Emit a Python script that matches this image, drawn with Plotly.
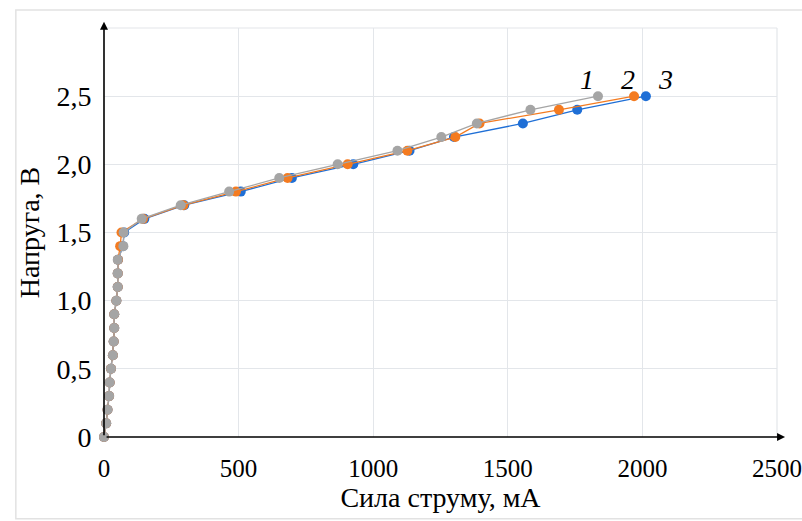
import plotly.graph_objects as go

# Series 1 (gray)
i1 = [0, 8, 13, 19, 21, 26, 33, 36, 38, 38, 46, 51, 51, 51, 72, 73, 140, 285, 465, 651, 868, 1090, 1253, 1385, 1584, 1835]
v1 = [0, 0.1, 0.2, 0.3, 0.4, 0.5, 0.6, 0.7, 0.8, 0.9, 1.0, 1.1, 1.2, 1.3, 1.4, 1.5, 1.6, 1.7, 1.8, 1.9, 2.0, 2.1, 2.2, 2.3, 2.4, 2.5]
# Series 2 (orange)
i2 = [0, 8, 13, 19, 21, 26, 33, 36, 38, 38, 46, 51, 51, 52, 60, 65, 145, 295, 490, 682, 905, 1127, 1305, 1395, 1690, 1969]
v2 = v1
# Series 3 (blue)
i3 = [0, 8, 13, 19, 21, 26, 33, 36, 38, 38, 46, 51, 51, 52, 70, 75, 150, 298, 508, 698, 926, 1135, 1300, 1556, 1758, 2013]
v3 = v1

labels = ["1", "2", "3"]
label_x = [1796, 1947, 2084]
label_y = [2.62, 2.62, 2.62]

x_ticks = [0, 500, 1000, 1500, 2000, 2500]
y_ticks = [0, 0.5, 1.0, 1.5, 2.0, 2.5]
y_tick_text = ["0", "0,5", "1,0", "1,5", "2,0", "2,5"]

BLUE = "#1f6fd6"
ORANGE = "#f47b20"
GRAY = "#a5a5a5"
GRID = "#e3e6ea"
SERIF = "Liberation Serif"

fig = go.Figure()
for xs, ys, c in [(i3, v3, BLUE), (i2, v2, ORANGE), (i1, v1, GRAY)]:
    fig.add_trace(go.Scatter(
        x=xs, y=ys, mode="lines+markers",
        line=dict(color=c, width=1.3),
        marker=dict(color=c, size=10),
        showlegend=False, cliponaxis=False,
    ))

for t, x, y in zip(labels, label_x, label_y):
    fig.add_annotation(x=x, y=y, xref="x", yref="y", text="<i>" + t + "</i>",
                       showarrow=False,
                       font=dict(family=SERIF, size=28, color="black"))

# plot border lines at top (3.0) and right (2500)
fig.add_shape(type="line", xref="paper", yref="paper", x0=0, x1=1, y0=1, y1=1,
              line=dict(color=GRID, width=1.2), layer="below")
fig.add_shape(type="line", xref="paper", yref="paper", x0=1, x1=1, y0=0, y1=1,
              line=dict(color=GRID, width=1.2), layer="below")

# axis arrows
fig.add_annotation(xref="paper", yref="paper", x=0, y=1.015, ax=0, ay=415,
                   axref="pixel", ayref="pixel", text="", showarrow=True,
                   arrowhead=2, arrowsize=1, arrowwidth=1.6, arrowcolor="black")
fig.add_annotation(xref="paper", yref="paper", x=1.012, y=0, ax=-680, ay=0,
                   axref="pixel", ayref="pixel", text="", showarrow=True,
                   arrowhead=2, arrowsize=1, arrowwidth=1.6, arrowcolor="black")

# outer frame
fig.add_shape(type="rect", xref="paper", yref="paper",
              x0=-0.131, x1=1.2, y0=-0.20, y1=1.044,
              line=dict(color="#e2e2e2", width=1.5), fillcolor="rgba(0,0,0,0)",
              layer="below")

font = dict(family=SERIF, size=28, color="black")
xfont = dict(family=SERIF, size=25, color="black")

fig.update_layout(
    width=802, height=521,
    margin=dict(l=104, r=25, t=28, b=84),
    paper_bgcolor="white", plot_bgcolor="white",
    font=font,
    xaxis=dict(range=[0, 2500], tickvals=x_ticks, ticktext=[str(v) for v in x_ticks],
               showgrid=True, gridcolor=GRID, gridwidth=1.2, automargin=False,
               zeroline=False, showline=False, ticklabeloverflow="allow",
               ticks="outside", ticklen=9, tickcolor="rgba(0,0,0,0)",
               title=dict(text="Сила струму, мА", font=font, standoff=2),
               tickfont=xfont),
    yaxis=dict(range=[0, 3.0], tickvals=y_ticks, ticktext=y_tick_text,
               showgrid=True, gridcolor=GRID, gridwidth=1.2, automargin=False,
               zeroline=False, showline=False,
               ticks="outside", ticklen=6, tickcolor="rgba(0,0,0,0)",
               title=dict(text="Напруга, В", font=font, standoff=8),
               tickfont=font),
)

fig.write_html("out.html")
